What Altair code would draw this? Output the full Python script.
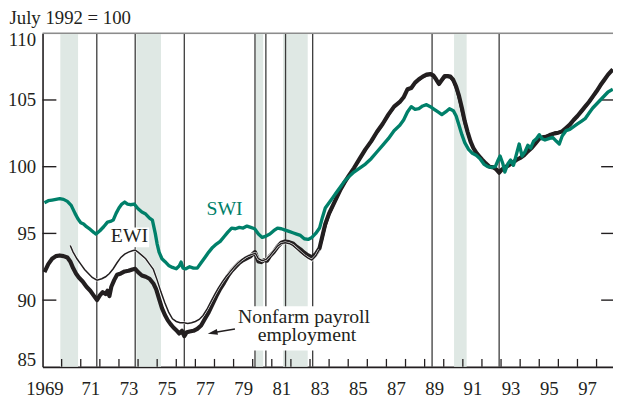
import altair as alt
import pandas as pd

# ---------------- data ----------------
swi_year = [1969.1, 1969.3, 1969.5, 1969.7, 1969.9, 1970.1, 1970.3, 1970.5, 1970.7, 1970.85,
            1971.0, 1971.15, 1971.3, 1971.5, 1971.7, 1971.8, 1972.0, 1972.2, 1972.4, 1972.55,
            1972.7, 1972.85, 1973.0, 1973.15, 1973.3, 1973.45, 1973.6, 1973.8, 1974.0, 1974.2,
            1974.4, 1974.6, 1974.75, 1974.9, 1975.0, 1975.1, 1975.25, 1975.4, 1975.6, 1975.8,
            1976.0, 1976.15, 1976.25, 1976.35, 1976.5, 1976.7, 1976.9, 1977.1, 1977.3, 1977.5,
            1977.7, 1977.9, 1978.1, 1978.3, 1978.5, 1978.7, 1978.9, 1979.1, 1979.3, 1979.5,
            1979.7, 1979.9, 1980.1, 1980.3, 1980.5, 1980.7, 1980.9, 1981.1, 1981.3, 1981.5,
            1981.7, 1981.9, 1982.1, 1982.3, 1982.5, 1982.7, 1982.9, 1983.1, 1983.3, 1983.5,
            1983.65, 1983.8, 1984.0, 1984.2, 1984.4, 1984.6, 1984.8, 1985.0, 1985.3, 1985.6,
            1985.9, 1986.2, 1986.5, 1986.8, 1987.1, 1987.4, 1987.7, 1987.9, 1988.1, 1988.3,
            1988.5, 1988.7, 1988.9, 1989.1, 1989.3, 1989.5, 1989.7, 1989.9, 1990.1, 1990.3,
            1990.5, 1990.65, 1990.8, 1990.95, 1991.1, 1991.3, 1991.5, 1991.7, 1991.9, 1992.1,
            1992.3, 1992.5, 1992.7, 1992.85, 1992.95, 1993.1, 1993.2, 1993.35, 1993.5, 1993.65,
            1993.8, 1993.95, 1994.1, 1994.25, 1994.4, 1994.55, 1994.7, 1994.85, 1995.0, 1995.15,
            1995.3, 1995.5, 1995.7, 1995.9, 1996.05, 1996.2, 1996.4, 1996.6, 1996.8, 1997.0,
            1997.2, 1997.4, 1997.6, 1997.8, 1998.0, 1998.2, 1998.4, 1998.6, 1998.85]
swi_val = [97.3, 97.45, 97.5, 97.55, 97.6, 97.55, 97.4, 97.1, 96.5, 96.1,
           95.8, 95.7, 95.5, 95.3, 95.05, 94.95, 95.2, 95.5, 95.85, 95.9,
           96.0, 96.5, 96.9, 97.2, 97.35, 97.2, 97.15, 97.2, 96.85, 96.6,
           96.45, 96.15, 96.0, 95.0, 94.2, 93.6, 93.1, 92.9, 92.6, 92.45,
           92.35, 92.55, 92.85, 92.4, 92.35, 92.5, 92.4, 92.4, 92.8, 93.2,
           93.6, 93.95, 94.2, 94.4, 94.75, 95.1, 95.4, 95.35, 95.45, 95.4,
           95.55, 95.45, 95.35, 94.95, 94.7, 94.8, 94.95, 95.2, 95.4, 95.35,
           95.25, 95.15, 95.05, 94.95, 94.85, 94.6, 94.55, 94.7, 95.0, 95.4,
           96.2, 96.9, 97.3, 97.7, 98.1, 98.5, 98.9, 99.2, 99.6, 99.9,
           100.2, 100.6, 101.1, 101.6, 102.1, 102.7, 103.1, 103.5, 104.1, 104.5,
           104.3, 104.35, 104.55, 104.65, 104.5, 104.3, 104.1, 103.9, 104.1, 104.35,
           104.2, 103.8, 103.1, 102.4, 101.8, 101.3, 101.0, 100.85, 100.6, 100.2,
           100.0, 99.95, 100.0, 100.5, 100.8, 100.2, 99.6, 100.2, 100.5, 100.1,
           100.9, 101.7, 100.8, 101.1, 101.6, 101.4, 101.9, 102.1, 102.4, 102.1,
           102.0, 102.1, 102.2, 101.9, 101.7, 102.3, 102.7, 102.8, 103.0, 103.2,
           103.4, 103.6, 104.0, 104.4, 104.7, 105.0, 105.3, 105.6, 105.8]

nf_year = [1969.1, 1969.3, 1969.5, 1969.7, 1969.9, 1970.1, 1970.3, 1970.45, 1970.6, 1970.75,
           1970.9, 1971.1, 1971.3, 1971.5, 1971.7, 1971.85, 1972.0, 1972.15, 1972.3, 1972.4,
           1972.5, 1972.6, 1972.75, 1972.9, 1973.1, 1973.3, 1973.5, 1973.7, 1973.85, 1974.0,
           1974.2, 1974.4, 1974.6, 1974.8, 1974.95, 1975.1, 1975.25, 1975.4, 1975.55, 1975.7,
           1975.85, 1976.0, 1976.15, 1976.3, 1976.42, 1976.55, 1976.7, 1976.9, 1977.1, 1977.3,
           1977.5, 1977.7, 1977.9, 1978.1, 1978.3, 1978.5, 1978.7, 1978.9, 1979.1, 1979.3,
           1979.5, 1979.7, 1979.9, 1980.12, 1980.3, 1980.45, 1980.6, 1980.75, 1980.9, 1981.1,
           1981.3, 1981.5, 1981.7, 1981.9, 1982.1, 1982.3, 1982.5, 1982.7, 1982.9, 1983.1,
           1983.3, 1983.5, 1983.65, 1983.8, 1984.0, 1984.2, 1984.4, 1984.6, 1984.8, 1985.0,
           1985.3, 1985.6, 1985.9, 1986.2, 1986.5, 1986.8, 1987.1, 1987.4, 1987.7, 1987.9,
           1988.1, 1988.3, 1988.5, 1988.7, 1988.9, 1989.1, 1989.3, 1989.45, 1989.6, 1989.75,
           1989.9, 1990.05, 1990.2, 1990.35, 1990.5, 1990.65, 1990.8, 1990.95, 1991.1, 1991.25,
           1991.4, 1991.55, 1991.7, 1991.85, 1992.0, 1992.2, 1992.4, 1992.6, 1992.75, 1992.9,
           1993.05, 1993.2, 1993.4, 1993.6, 1993.8, 1994.0, 1994.2, 1994.4, 1994.6, 1994.8,
           1995.0, 1995.2, 1995.4, 1995.6, 1995.8, 1996.0, 1996.2, 1996.4, 1996.6, 1996.8,
           1997.0, 1997.2, 1997.4, 1997.6, 1997.8, 1998.0, 1998.2, 1998.4, 1998.6, 1998.85]
nf_val = [92.1, 92.7, 93.1, 93.3, 93.35, 93.3, 93.2, 92.9, 92.4, 92.0,
          91.7, 91.4, 91.0, 90.7, 90.3, 90.0, 90.35, 90.6, 90.45, 90.7,
          90.3, 91.0, 91.5, 91.9, 92.0, 92.15, 92.2, 92.3, 92.35, 92.1,
          91.85, 91.75, 91.6, 91.25, 90.8, 90.1, 89.4, 88.9, 88.5, 88.2,
          87.95, 87.75, 87.5, 87.7, 87.3, 87.6, 87.65, 87.7, 87.85, 88.1,
          88.6, 89.1, 89.7, 90.3, 90.85, 91.3, 91.8, 92.2, 92.5, 92.8,
          93.0, 93.15, 93.3, 93.6, 92.9, 92.85, 93.0, 92.95, 93.3, 93.6,
          94.0, 94.3, 94.4, 94.35, 94.25, 94.0, 93.8, 93.55, 93.35, 93.2,
          93.45, 93.9, 94.8, 95.7, 96.5, 97.1, 97.7, 98.3, 98.8, 99.25,
          99.9, 100.6, 101.3, 101.9, 102.6, 103.2, 103.9, 104.5, 104.85, 105.2,
          105.8, 105.9, 106.3, 106.55, 106.75, 106.9, 106.95, 106.85, 106.55, 106.2,
          106.5, 106.8, 106.8, 106.75, 106.5, 106.0, 105.3, 104.4, 103.4, 102.6,
          101.9, 101.4, 101.05, 100.8, 100.55, 100.25, 100.0, 99.95, 99.8, 99.55,
          99.8, 99.95, 100.1, 100.3, 100.5, 100.65, 100.85, 101.15, 101.4, 101.75,
          102.1, 102.2, 102.25, 102.4, 102.5, 102.55, 102.65, 102.9, 103.15, 103.5,
          103.8, 104.15, 104.5, 104.85, 105.25, 105.65, 106.1, 106.5, 106.9, 107.3]

ewi_year = [1970.45, 1970.6, 1970.8, 1971.0, 1971.2, 1971.4, 1971.6, 1971.85, 1972.1, 1972.3,
            1972.5, 1972.7, 1972.9, 1973.1, 1973.3, 1973.5, 1973.7, 1973.85, 1974.0, 1974.2,
            1974.4, 1974.6, 1974.8, 1975.0, 1975.2, 1975.4, 1975.6, 1975.8, 1976.0, 1976.2,
            1976.4, 1976.6, 1976.8, 1977.0, 1977.2, 1977.4, 1977.6, 1977.8, 1978.0, 1978.2,
            1978.4, 1978.6, 1978.8, 1979.0, 1979.2, 1979.4, 1979.6, 1979.8, 1980.0, 1980.15,
            1980.3, 1980.5, 1980.7, 1980.9, 1981.1, 1981.3, 1981.5, 1981.7, 1981.9, 1982.1,
            1982.3, 1982.5, 1982.7, 1982.9, 1983.1, 1983.3, 1983.5, 1983.65, 1983.8, 1984.0,
            1984.2, 1984.4, 1984.6, 1984.8, 1985.0, 1985.3, 1985.6, 1985.9, 1986.2, 1986.5,
            1986.8, 1987.1, 1987.4, 1987.7, 1987.9, 1988.1, 1988.3, 1988.5, 1988.7, 1988.9,
            1989.1, 1989.3, 1989.45, 1989.6, 1989.75, 1989.9, 1990.05, 1990.2, 1990.35, 1990.5,
            1990.65, 1990.8, 1990.95, 1991.1, 1991.25, 1991.4, 1991.55, 1991.7, 1991.85, 1992.0,
            1992.2, 1992.4, 1992.6, 1992.75, 1992.9, 1993.05, 1993.2, 1993.4, 1993.6, 1993.8,
            1994.0, 1994.2, 1994.4, 1994.6, 1994.8, 1995.0, 1995.2, 1995.4, 1995.6, 1995.8,
            1996.0, 1996.2, 1996.4, 1996.6, 1996.8, 1997.0, 1997.2, 1997.4, 1997.6, 1997.8,
            1998.0, 1998.2, 1998.4, 1998.6, 1998.85]
ewi_val = [94.1, 93.6, 93.1, 92.7, 92.3, 92.0, 91.7, 91.5, 91.6, 91.75,
           92.0, 92.35, 92.8, 93.2, 93.45, 93.6, 93.7, 93.75, 93.6, 93.35,
           93.1, 92.7, 92.3, 91.5, 90.6, 89.8, 89.1, 88.6, 88.4, 88.3,
           88.3, 88.25, 88.3, 88.4, 88.55, 88.85, 89.3, 89.85, 90.4, 90.9,
           91.35, 91.75, 92.1, 92.45, 92.75, 93.0, 93.2, 93.35, 93.45, 93.5,
           93.1, 92.95, 93.05, 93.35, 93.7, 94.05, 94.25, 94.3, 94.25, 94.1,
           93.85, 93.6, 93.35, 93.15, 93.0, 93.3, 93.8, 94.5, 95.4, 96.3,
           96.95, 97.6, 98.2, 98.7, 99.15, 99.8, 100.5, 101.2, 101.8, 102.5,
           103.1, 103.8, 104.4, 104.8, 105.15, 105.7, 105.85, 106.2, 106.45, 106.65,
           106.8, 106.85, 106.75, 106.45, 106.15, 106.4, 106.65, 106.7, 106.65, 106.35,
           105.75, 104.95, 104.0, 103.1, 102.4, 101.8, 101.35, 101.0, 100.75, 100.5,
           100.2, 100.0, 99.9, 99.75, 99.6, 99.85, 100.05, 100.2, 100.4, 100.55,
           100.75, 100.95, 101.25, 101.5, 101.85, 102.15, 102.3, 102.35, 102.45, 102.55,
           102.6, 102.7, 102.95, 103.2, 103.5, 103.75, 104.05, 104.4, 104.75, 105.15,
           105.55, 106.0, 106.4, 106.85, 107.2]

# recessions (shaded) and cycle turning points (vertical rules)
rec_start = [1969.93, 1973.91, 1980.16, 1981.59, 1990.54]
rec_end = [1970.86, 1975.2, 1980.55, 1982.88, 1991.2]
cycle_lines = [1971.84, 1973.85, 1976.42, 1980.12, 1980.69, 1981.72, 1983.14, 1989.39, 1992.90]

# axis
y_ticks = [90, 95, 100, 105]
y_labels = [85, 90, 95, 100, 105, 110]
year_ticks = list(range(1970, 1999))
x_label_pos = [1969.1] + [y + 0.5 for y in range(1971, 1998, 2)]

# annotations (data units)
label_text = ["SWI", "EWI", "Nonfarm payroll", "employment"]
label_year = [1978.53, 1973.55, 1982.69, 1982.84]
label_val = [96.41, 94.32, 88.29, 86.94]
label_color = ["#00806a", "#231f20", "#231f20", "#231f20"]
box_x0 = [1972.51, 1979.18]
box_x1 = [1974.58, 1986.30]
box_y0 = [95.45, 89.54]
box_y1 = [93.97, 86.22]
arrow_year = [1979.07, 1977.9]
arrow_val = [87.84, 87.55]

# ---------------- chart ----------------
W, H = 578, 338
FONT = "Liberation Serif"
BLACK = "#231f20"
GREEN = "#00806a"
SHADE = "#dfe8e4"

xscale = alt.Scale(domain=[1969.0, 1998.86], nice=False, zero=False)
yscale = alt.Scale(domain=[85, 110], nice=False, zero=False)

xaxis = alt.Axis(values=x_label_pos,
                 labelExpr="datum.value < 1970 ? '1969' : substring(toString(floor(datum.value)), 2, 4)",
                 title=None, ticks=False, grid=False, domain=True, domainColor=BLACK,
                 domainWidth=1.6, labelFont=FONT, labelFontSize=19, labelColor=BLACK,
                 labelPadding=13, labelFlush=False, labelOverlap=False, labelBound=False)
yaxis = alt.Axis(values=y_labels, title="July 1992 = 100", titleAngle=0, titleAlign="left",
                 titleBaseline="alphabetic", titleX=-34, titleY=-10, titleFont=FONT,
                 titleFontSize=19, titleFontWeight="normal", titleColor=BLACK,
                 ticks=False, grid=False, domain=True, domainColor=BLACK, domainWidth=1.6,
                 labelFont=FONT, labelFontSize=19, labelColor=BLACK, labelPadding=7,
                 labelFlush=True, labelFlushOffset=3)


def X(f):
    return alt.X(f, type="quantitative", scale=xscale, axis=xaxis)


def Y(f):
    return alt.Y(f, type="quantitative", scale=yscale, axis=yaxis)


swi = pd.DataFrame({"year": swi_year, "v": swi_val})
nf = pd.DataFrame({"year": nf_year, "v": nf_val})
ewi = pd.DataFrame({"year": ewi_year, "v": ewi_val})
ewi_early = ewi[ewi["year"] <= 1983.6]
rec = pd.DataFrame({"s": rec_start, "e": rec_end})
cyc = pd.DataFrame({"year": cycle_lines})
yt = pd.DataFrame({"v": y_ticks})
xt = pd.DataFrame({"year": year_ticks})
lab = pd.DataFrame({"t": label_text, "year": label_year, "v": label_val, "c": label_color})
box = pd.DataFrame({"x0": box_x0, "x1": box_x1, "y0": box_y0, "y1": box_y1})
arr = pd.DataFrame({"year": arrow_year, "v": arrow_val})
one = pd.DataFrame({"k": [0]})

bands = alt.Chart(rec).mark_rect(color=SHADE).encode(
    x=X("s"), x2="e", y=alt.value(0), y2=alt.value(H))
vlines = alt.Chart(cyc).mark_rule(color="#3a3a3a", strokeWidth=1.3).encode(
    x=X("year"), y=alt.value(0), y2=alt.value(H))
boxes = alt.Chart(box).mark_rect(color="white").encode(
    x=X("x0"), x2="x1", y=Y("y0"), y2="y1")
top = alt.Chart(one).mark_rule(color="#8c8c8c", strokeWidth=1.5).encode(
    y=alt.value(0), x=alt.value(0), x2=alt.value(W))
xticks = alt.Chart(xt).mark_rule(color=BLACK, strokeWidth=1.3).encode(
    x=X("year"), y=alt.value(H), y2=alt.value(H - 8))
lticks = alt.Chart(yt).mark_rule(color=BLACK, strokeWidth=1.4).encode(
    y=Y("v"), x=alt.value(0), x2=alt.value(14))
rticks = alt.Chart(yt).mark_rule(color=BLACK, strokeWidth=1.4).encode(
    y=Y("v"), x=alt.value(W - 12), x2=alt.value(W))

nf_line = alt.Chart(nf).mark_line(color=BLACK, strokeWidth=4.2, strokeJoin="round").encode(
    x=X("year"), y=Y("v"))
ewi_case = alt.Chart(ewi_early).mark_line(color="white", strokeWidth=2.6).encode(
    x=X("year"), y=Y("v"))
ewi_line = alt.Chart(ewi).mark_line(color=BLACK, strokeWidth=1.5).encode(
    x=X("year"), y=Y("v"))
swi_line = alt.Chart(swi).mark_line(color=GREEN, strokeWidth=3.4, strokeJoin="round").encode(
    x=X("year"), y=Y("v"))

texts = alt.Chart(lab).mark_text(font=FONT, fontSize=20, align="center",
                                 baseline="alphabetic").encode(
    x=X("year"), y=Y("v"), text="t:N", color=alt.Color("c:N", scale=None))
arrow_line = alt.Chart(arr).mark_line(color=BLACK, strokeWidth=1.6).encode(
    x=X("year"), y=Y("v"))
arrow_head = alt.Chart(arr.iloc[[1]]).mark_point(
    shape="M-1,0L1,-0.6L1,0.6Z", filled=True, color=BLACK, size=100, angle=349, opacity=1).encode(
    x=X("year"), y=Y("v"))

chart = alt.layer(bands, vlines, boxes, top, xticks, lticks, rticks,
                  nf_line, ewi_case, ewi_line, swi_line,
                  texts, arrow_line, arrow_head).properties(
    width=W, height=H,
    autosize=alt.AutoSizeParams(type="none"),
    padding={"left": 35, "top": 23, "right": 0, "bottom": 31},
).configure_view(stroke=None).configure(background="white")

chart.save("out.html", embed_options={"renderer": "svg", "actions": False})
